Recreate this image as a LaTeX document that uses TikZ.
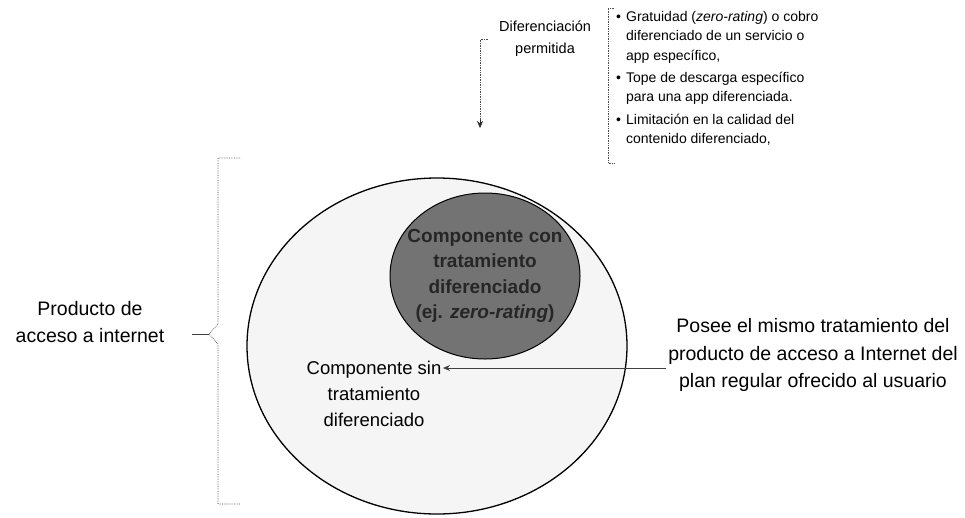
\documentclass[tikz,border=0pt]{standalone}
\usepackage{fontspec}
\setmainfont{Liberation Sans}
\usetikzlibrary{arrows.meta,shapes.geometric}
\begin{document}
\begin{tikzpicture}[x=1pt,y=-1pt,
  bigtxt/.style={align=center,font=\fontsize{19.5}{27.5}\selectfont,inner sep=0pt},
  itemtxt/.style={inner sep=0pt,anchor=north west,font=\fontsize{14}{19.5}\selectfont},
  dotline/.style={densely dotted,line width=0.7pt,black!70},
  tip/.style={-{Stealth[length=7pt,width=6pt]}}]
\useasboundingbox (0,0) rectangle (965,517);

% outer and inner circles
\node (outer) [draw,ellipse,line width=1.3pt,fill=black!4,minimum width=380pt,minimum height=336pt,inner sep=0pt] at (437,346) {};
\node (inner) [draw,ellipse,line width=1pt,fill=black!55,minimum width=190pt,minimum height=166pt,inner sep=0pt] at (485,276) {};
\node (innertxt) [bigtxt,font=\bfseries\fontsize{19}{25.5}\selectfont,text=black!85] at (485,276) {Componente con\\tratamiento\\diferenciado\\(ej. \textit{zero-rating})};

% component without treatment
\node (sin) [bigtxt,font=\fontsize{18.5}{26}\selectfont] at (374,394) {Componente sin\\tratamiento\\diferenciado};
\coordinate (sinend) at (443,368);

% right explanation
\node (posee) [bigtxt] at (813,355) {Posee el mismo tratamiento del\\producto de acceso a Internet del\\plan regular ofrecido al usuario};
\coordinate (poseestart) at (666,368);
\draw[tip,line width=0.7pt,black!75] (poseestart) -- (sinend);

% left label and bracket
\node (prod) [bigtxt] at (90,322) {Producto de\\acceso a internet};
\coordinate (lb1) at (240,158);
\coordinate (lb2) at (218,158);
\coordinate (lb3) at (218,324);
\coordinate (lb4) at (209,334);
\coordinate (lb5) at (218,344);
\coordinate (lb6) at (218,504);
\coordinate (lb7) at (240,504);
\coordinate (lbtip) at (192,334);
\draw[dotline] (lb1) -- (lb2) -- (lb3) -- (lb4) -- (lb5) -- (lb6) -- (lb7);
\draw[line width=0.8pt,black!75] (lbtip) -- (lb4);

% differentiation label and arrow
\node (dif) [align=center,font=\fontsize{14.5}{22}\selectfont,inner sep=0pt] at (545,39) {Diferenciación\\permitida};
\coordinate (da1) at (488,39);
\coordinate (da2) at (480,39);
\coordinate (da3) at (480,128);
\coordinate (da4) at (480,120);
\draw[dotline] (da1) -- (da2) -- (da4);
\draw[tip,black!85] (da4) -- (da3);

% right bracket
\coordinate (rb1) at (614,8);
\coordinate (rb2) at (608,8);
\coordinate (rb3) at (608,163);
\coordinate (rb4) at (614,163);
\draw[dotline] (rb1) -- (rb2) -- (rb3) -- (rb4);

% bullets
\node (t1) [itemtxt] at (616,7.5) {\begin{tabular}{@{}l@{\hspace{5pt}}l@{}}\textbullet & Gratuidad (\textit{zero-rating}) o cobro\\ & diferenciado de un servicio o\\ & app específico,\end{tabular}};
\node (t2) [itemtxt] at (616,68.5) {\begin{tabular}{@{}l@{\hspace{5pt}}l@{}}\textbullet & Tope de descarga específico\\ & para una app diferenciada.\end{tabular}};
\node (t3) [itemtxt] at (616,110.5) {\begin{tabular}{@{}l@{\hspace{5pt}}l@{}}\textbullet & Limitación en la calidad del\\ & contenido diferenciado,\end{tabular}};
\end{tikzpicture}
\end{document}
